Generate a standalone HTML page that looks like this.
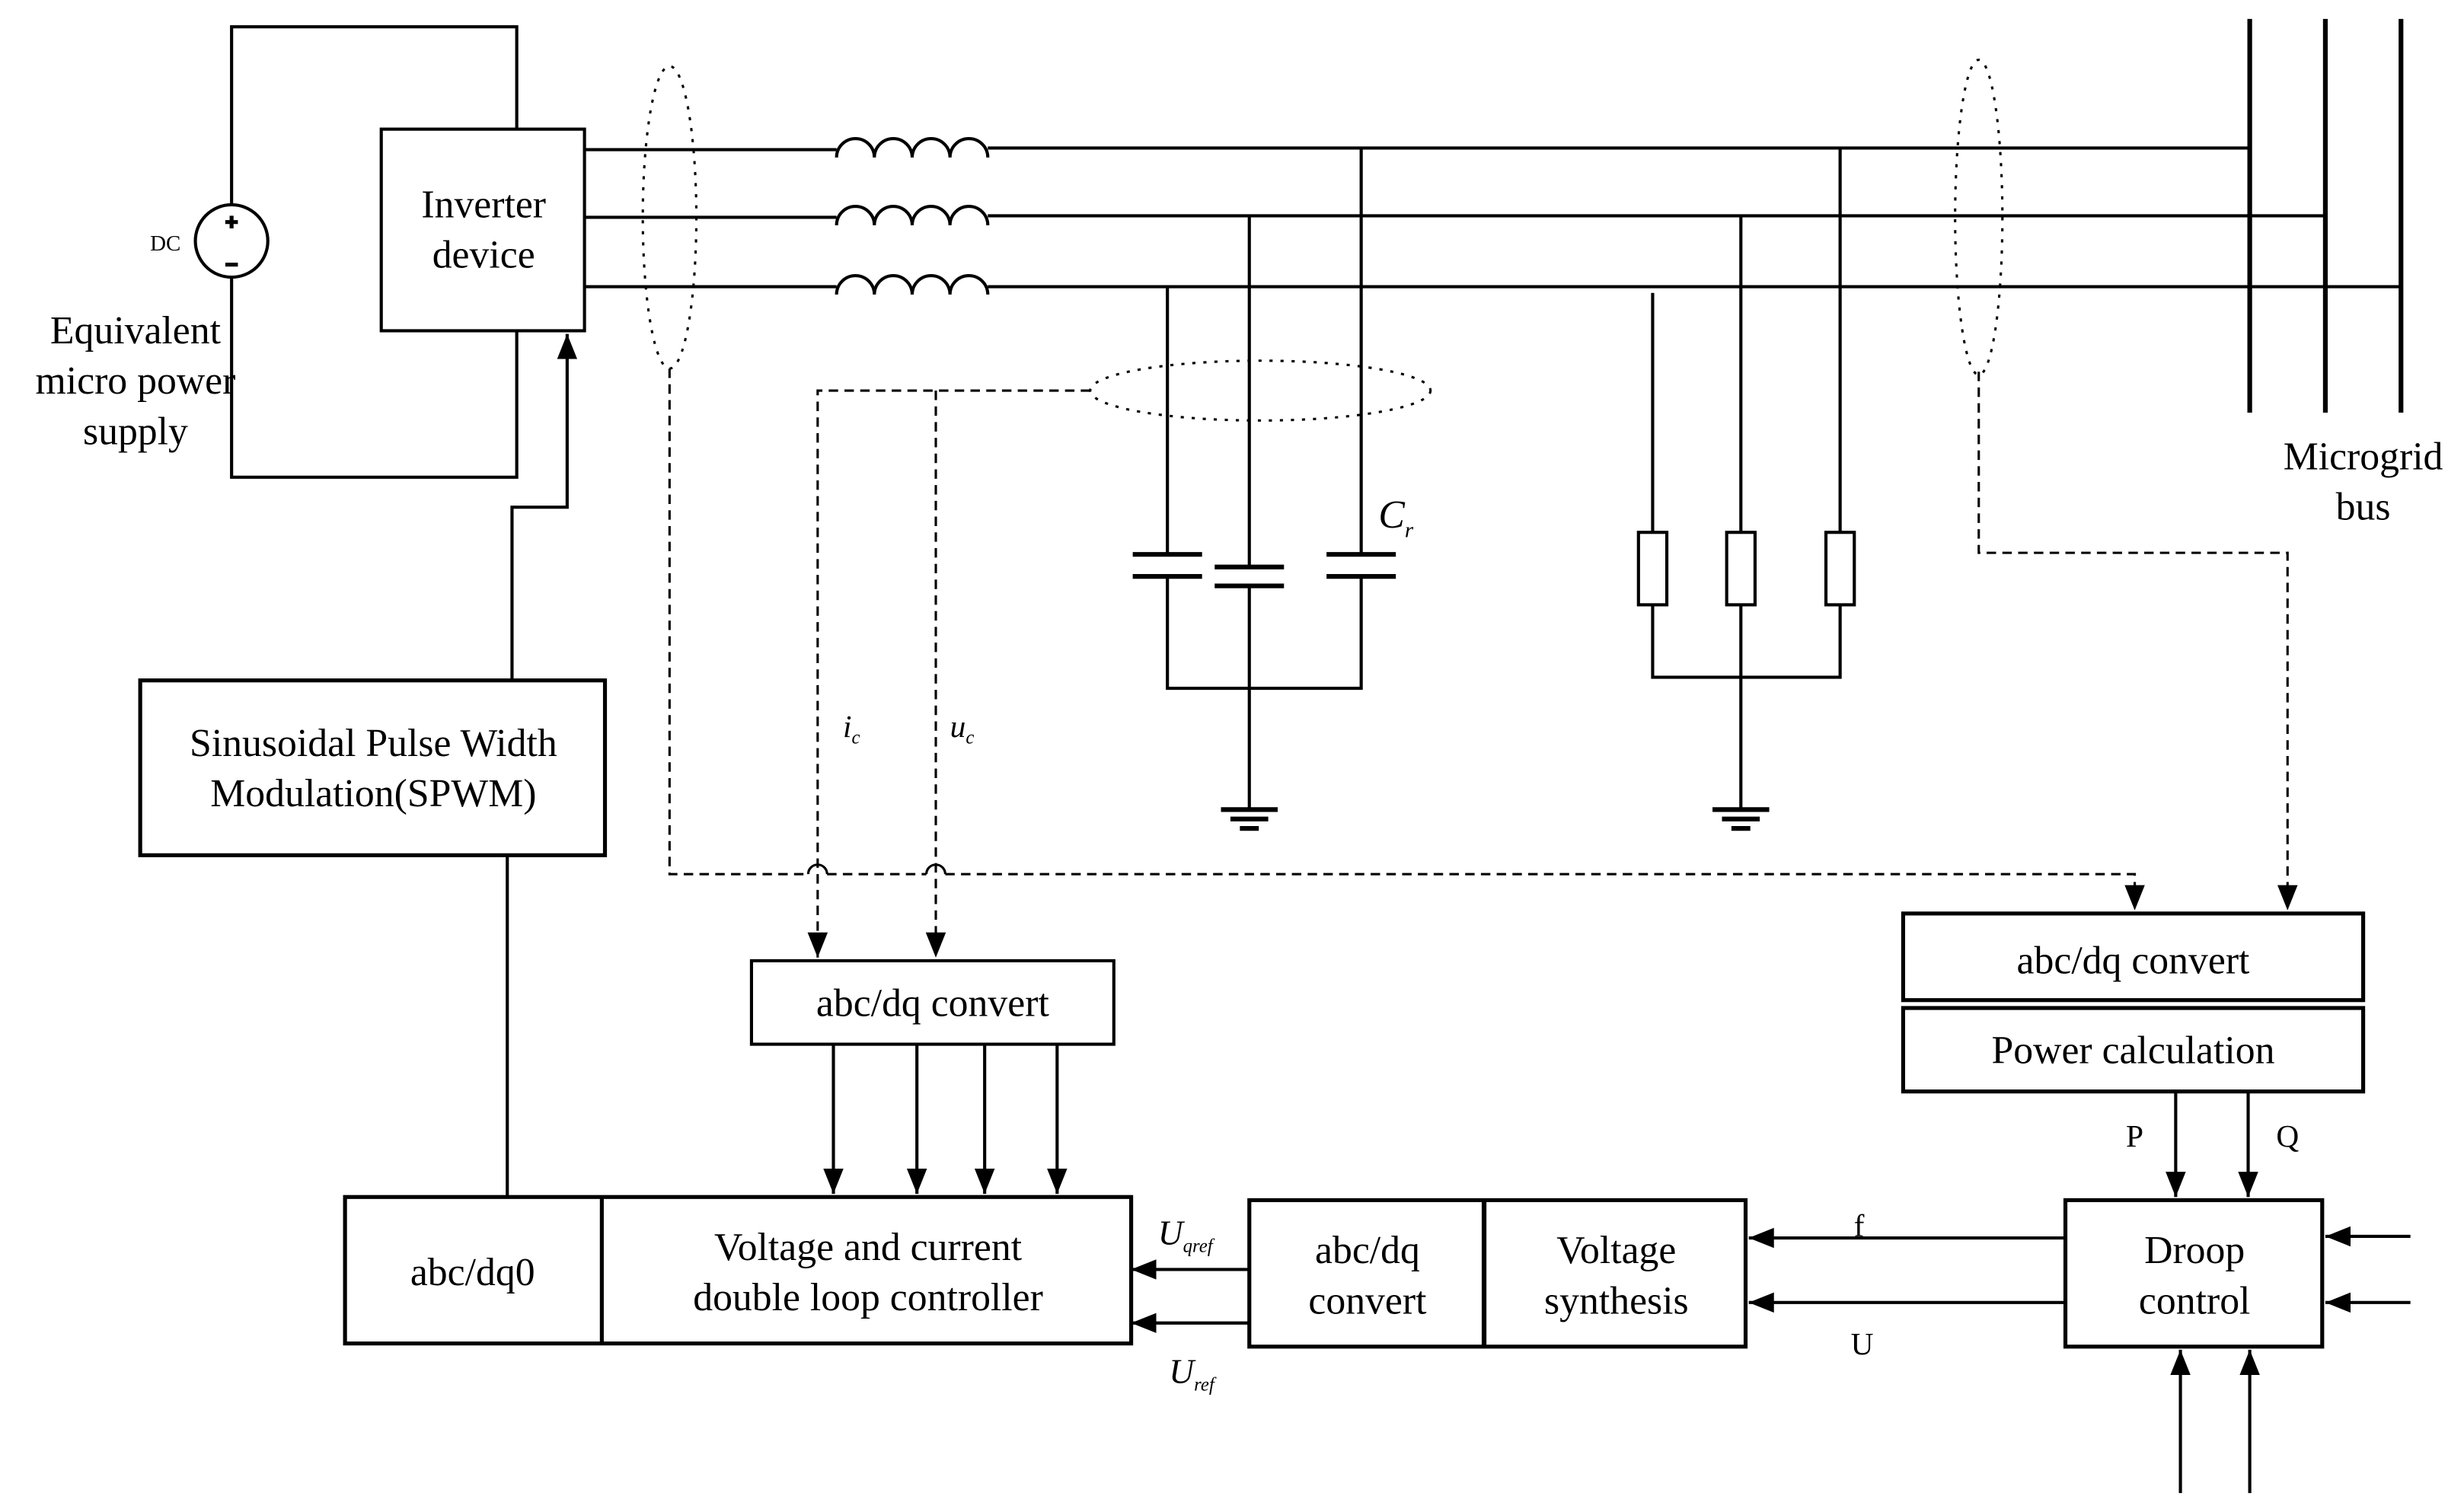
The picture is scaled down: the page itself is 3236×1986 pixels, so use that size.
<!DOCTYPE html>
<html><head><meta charset="utf-8"><style>html,body{margin:0;padding:0;background:#fff}svg{display:block}</style></head>
<body>
<svg width="3236" height="1986" viewBox="0 0 1564 960" preserveAspectRatio="none" xmlns="http://www.w3.org/2000/svg" font-family="Liberation Serif, serif" font-size="25">
<defs>
<marker id="A" viewBox="0 0 10 10" refX="10" refY="5" markerWidth="16" markerHeight="16" orient="auto" markerUnits="userSpaceOnUse"><path d="M0,1L10,5L0,9z"/></marker>
</defs>
<g stroke="#000" stroke-width="2" fill="none">
<path d="M147,130V17H328V82"/>
<path d="M147,176V303H328V210"/>
<circle cx="147" cy="153" r="23"/>
<path d="M143,141h8M147,137v8M143,168h8" stroke-width="2.5"/>
<rect x="242" y="82" width="129" height="128"/>
<path d="M371,95H531M371,138H531M371,182H531"/>
<path d="M531,100a12,12 0 0 1 24,0a12,12 0 0 1 24,0a12,12 0 0 1 24,0a12,12 0 0 1 24,0"/>
<path d="M531,143a12,12 0 0 1 24,0a12,12 0 0 1 24,0a12,12 0 0 1 24,0a12,12 0 0 1 24,0"/>
<path d="M531,187a12,12 0 0 1 24,0a12,12 0 0 1 24,0a12,12 0 0 1 24,0a12,12 0 0 1 24,0"/>
<path d="M627,94H1428M627,137H1476M627,182H1524"/>
<path d="M1428,12V262M1476,12V262M1524,12V262" stroke-width="3"/>
<path d="M741,182V352M741,366V437H864V366M864,95V352M793,138V360M793,372V514"/>
<path d="M719,352h44M719,366h44M771,360h44M771,372h44M842,352h44M842,366h44" stroke-width="3"/>
<path d="M775,514h36M781,520h24M787,526h12" stroke-width="3"/>
<path d="M1049,186V338M1049,384V430H1168V384M1168,95V338M1105,138V338M1105,384V514"/>
<rect x="1040" y="338" width="18" height="46"/><rect x="1096" y="338" width="18" height="46"/><rect x="1159" y="338" width="18" height="46"/>
<path d="M1087,514h36M1093,520h24M1099,526h12" stroke-width="3"/>
<g stroke-dasharray="2,5" stroke-width="1.5">
<ellipse cx="425" cy="138" rx="17" ry="96"/>
<ellipse cx="1256" cy="138" rx="15" ry="100"/>
<ellipse cx="800" cy="248" rx="108" ry="19"/>
</g>
<g stroke-dasharray="6,4" stroke-width="1.5">
<path d="M425,234V555H513"/><path d="M525,555H588"/>
<path d="M600,555H1355V578" marker-end="url(#A)"/>
<path d="M1256,236V351H1452V578" marker-end="url(#A)"/>
<path d="M692,248H519V608" marker-end="url(#A)"/>
<path d="M594,248V608" marker-end="url(#A)"/>
</g>
<path d="M513,555a6,6 0 0 1 12,0M588,555a6,6 0 0 1 12,0" stroke-width="1.5"/>
<rect x="477" y="610" width="230" height="53"/>
<rect x="219" y="760" width="499" height="93" stroke-width="2.5"/><path d="M382,760V853" stroke-width="2.5"/>
<rect x="89" y="432" width="295" height="111" stroke-width="2.5"/>
<rect x="793" y="762" width="315" height="93" stroke-width="2.5"/><path d="M942,762V855" stroke-width="3"/>
<rect x="1311" y="762" width="163" height="93" stroke-width="2.5"/>
<rect x="1208" y="580" width="292" height="55" stroke-width="2.5"/>
<rect x="1208" y="640" width="292" height="53" stroke-width="2.5"/>
<path d="M529,663V758" marker-end="url(#A)"/>
<path d="M582,663V758" marker-end="url(#A)"/>
<path d="M625,663V758" marker-end="url(#A)"/>
<path d="M671,663V758" marker-end="url(#A)"/>
<path d="M322,760V543"/>
<path d="M325,432V322H360V212" marker-end="url(#A)"/>
<path d="M793,806H718" marker-end="url(#A)"/>
<path d="M793,840H718" marker-end="url(#A)"/>
<path d="M1311,786H1110" marker-end="url(#A)"/>
<path d="M1311,827H1110" marker-end="url(#A)"/>
<path d="M1530,785H1476" marker-end="url(#A)"/>
<path d="M1530,827H1476" marker-end="url(#A)"/>
<path d="M1384,948V857" marker-end="url(#A)"/>
<path d="M1428,948V857" marker-end="url(#A)"/>
<path d="M1381,693V760" marker-end="url(#A)"/>
<path d="M1427,693V760" marker-end="url(#A)"/>
</g>
<g text-anchor="middle">
<text x="307" y="138">Inverter</text><text x="307" y="170">device</text>
<text x="86" y="218">Equivalent</text><text x="86" y="250">micro power</text><text x="86" y="282">supply</text>
<text x="105" y="159" font-size="14">DC</text>
<text x="1500" y="298">Microgrid</text><text x="1500" y="330">bus</text>
<text x="592" y="645">abc/dq convert</text>
<text x="300" y="816">abc/dq0</text>
<text x="551" y="800">Voltage and current</text><text x="551" y="832">double loop controller</text>
<text x="237" y="480">Sinusoidal Pulse Width</text><text x="237" y="512">Modulation(SPWM)</text>
<text x="868" y="802">abc/dq</text><text x="868" y="834">convert</text>
<text x="1026" y="802">Voltage</text><text x="1026" y="834">synthesis</text>
<text x="1393" y="802">Droop</text><text x="1393" y="834">control</text>
<text x="1354" y="618">abc/dq convert</text>
<text x="1354" y="675">Power calculation</text>
<text x="1355" y="728" font-size="20">P</text><text x="1452" y="728" font-size="20">Q</text>
<text x="1180" y="785" font-size="20">f</text><text x="1182" y="860" font-size="20">U</text>
</g>
<g font-style="italic">
<text x="875" y="335">C<tspan font-size="14" dy="6">r</tspan></text>
<text x="535" y="468" font-size="20">i<tspan font-size="12" dy="4">c</tspan></text>
<text x="603" y="468" font-size="20">u<tspan font-size="12" dy="4">c</tspan></text>
<text x="735" y="790" font-size="22">U<tspan font-size="12" dy="5">qref</tspan></text>
<text x="742" y="878" font-size="22">U<tspan font-size="12" dy="5">ref</tspan></text>
</g>
</svg>
</body></html>
